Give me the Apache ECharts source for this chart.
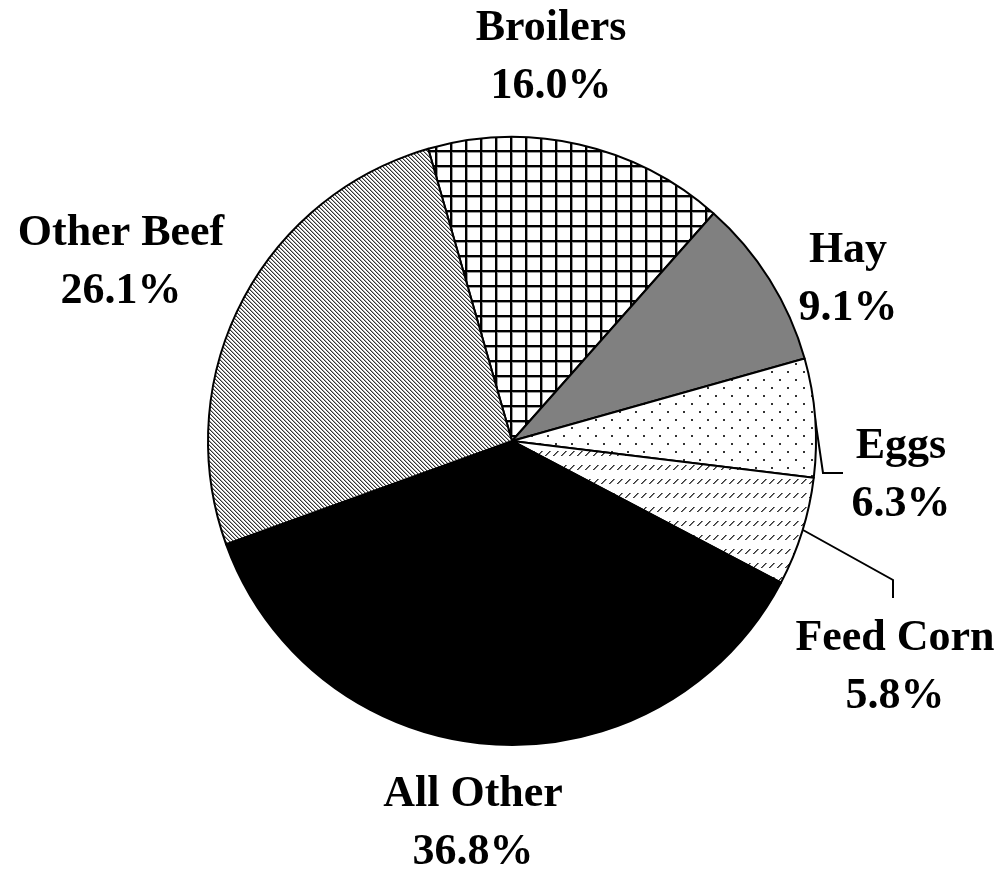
<!DOCTYPE html>
<html>
<head>
<meta charset="utf-8">
<script src="https://cdn.jsdelivr.net/npm/echarts@6/dist/echarts.min.js"></script>
<style>
html,body{margin:0;padding:0;background:#fff;}
#chart{width:1004px;height:876px;}
</style>
</head>
<body>
<div id="chart"></div>
<script>
// Data
const categories = ['Broilers', 'Hay', 'Eggs', 'Feed Corn', 'All Other', 'Other Beef'];
const shares = [16.0, 9.1, 6.3, 5.8, 36.8, 26.1];

// Label placement (centres) and leader lines
const labelPos = {
  'Broilers': [551, 58],
  'Hay': [848, 280],
  'Eggs': [901, 476],
  'Feed Corn': [895, 668],
  'All Other': [473, 824],
  'Other Beef': [121, 263]
};
const leaderLines = {
  'Eggs': [[815, 418], [823, 473], [843, 473]],
  'Feed Corn': [[803, 530], [893, 580], [893, 598]]
};

function makeTile(w, h, draw) {
  const c = document.createElement('canvas');
  c.width = w; c.height = h;
  const ctx = c.getContext('2d');
  ctx.fillStyle = '#fff';
  ctx.fillRect(0, 0, w, h);
  draw(ctx, w, h);
  return c;
}
function px(ctx, x, y, col) { ctx.fillStyle = col; ctx.fillRect(x, y, 1, 1); }

const gridTile = makeTile(15, 15, (ctx) => {
  ctx.fillStyle = '#999';
  ctx.fillRect(0, 2, 15, 1);
  ctx.fillRect(2, 0, 1, 15);
  ctx.fillStyle = '#000';
  ctx.fillRect(0, 0, 15, 2);
  ctx.fillRect(0, 0, 2, 15);
});
const diagTile = makeTile(4, 4, (ctx) => {
  for (let y = 0; y < 4; y++) for (let x = 0; x < 4; x++) {
    const d = ((x - y) % 4 + 4) % 4;
    if (d === 0) px(ctx, x, y, '#333');
    else if (d === 1) px(ctx, x, y, '#aaa');
  }
});
const dotTile = makeTile(16, 16, (ctx) => {
  ctx.fillStyle = '#333';
  ctx.fillRect(3, 3, 2, 2);
  ctx.fillRect(11, 11, 2, 2);
});
const dashTile = makeTile(8, 14, (ctx) => {
  const pts = [[1, 7], [2, 6], [3, 5], [4, 4], [5, 3]];
  pts.forEach(p => { px(ctx, p[0], p[1], '#333'); px(ctx, p[0] + 1, p[1], '#777'); });
});

const fills = {
  'Broilers': { image: gridTile, repeat: 'repeat' },
  'Hay': '#808080',
  'Eggs': { image: dotTile, repeat: 'repeat' },
  'Feed Corn': { image: dashTile, repeat: 'repeat' },
  'All Other': '#000000',
  'Other Beef': { image: diagTile, repeat: 'repeat' }
};

const lineStyle = { color: '#000', width: 2 };

const chart = echarts.init(document.getElementById('chart'), null, { renderer: 'canvas' });
chart.setOption({
  animation: false,
  backgroundColor: '#ffffff',
  series: [{
    type: 'pie',
    center: [512, 441],
    radius: 304,
    startAngle: 106,
    clockwise: true,
    avoidLabelOverlap: false,
    itemStyle: { borderColor: '#000', borderWidth: 2 },
    emphasis: { disabled: true },
    label: {
      show: true,
      position: 'outside',
      formatter: (p) => p.name + '\n' + p.value.toFixed(1) + '%',
      fontFamily: '"Liberation Serif", "Times New Roman", serif',
      fontWeight: 'bold',
      fontSize: 44,
      lineHeight: 58,
      color: '#000',
      align: 'center'
    },
    labelLine: { show: true, lineStyle: lineStyle, smooth: false },
    labelLayout: function (params) {
      const name = categories[params.dataIndex];
      const p = labelPos[name];
      const r = { x: p[0], y: p[1], align: 'center', verticalAlign: 'middle' };
      if (leaderLines[name]) r.labelLinePoints = leaderLines[name];
      return r;
    },
    data: categories.map((c, i) => ({
      name: c,
      value: shares[i],
      itemStyle: { color: fills[c] },
      labelLine: { show: !!leaderLines[c], lineStyle: lineStyle }
    }))
  }]
});
</script>
</body>
</html>
